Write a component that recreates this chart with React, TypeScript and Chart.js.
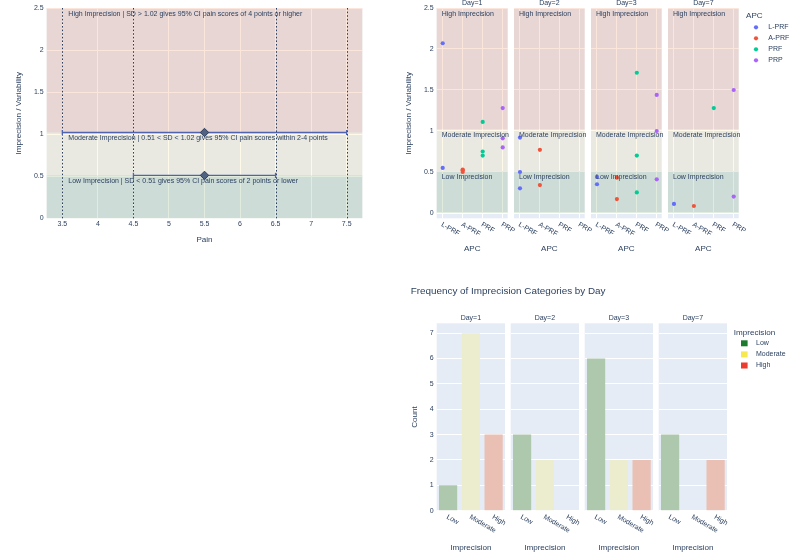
import React, { useEffect, useRef } from "react";
import { Chart, registerables } from "chart.js";

Chart.register(...registerables);

const FONT = '"Liberation Sans", Arial, Helvetica, sans-serif';
const INK = "#2a3f5f";
const PLOT_BG = "#e5ecf6";
const GRID = "#ffffff";
const TICK = 7;
const AXIS_TITLE = 8.1;
const NOTE = 7;
const MAIN_TITLE = 9.9;

// ---- Pain vs imprecision reference panel ----
const painTicks = [3.5, 4, 4.5, 5, 5.5, 6, 6.5, 7, 7.5];
const sdTicks = [0, 0.5, 1, 1.5, 2, 2.5];
const sdCutoffs = [1.02, 0.51];
const ciMid = [5.5, 5.5];
const ciLow = [3.5, 4.5];
const ciHigh = [7.5, 6.5];
const ciGuides = [3.5, 4.5, 6.5, 7.5];
const bandNotes = [
  "High Imprecision | SD > 1.02 gives 95% CI pain scores of 4 points or higher",
  "Moderate Imprecision | 0.51 < SD < 1.02 gives 95% CI pain scores within 2-4 points",
  "Low Imprecision | SD < 0.51 gives 95% CI pain scores of 2 points or lower",
];

// ---- SD by APC, faceted by day ----
const dayLabels = ["Day=1", "Day=2", "Day=3", "Day=7"];
const apcLabels = ["L-PRF", "A-PRF", "PRF", "PRP"];
const apcColors = ["#636efa", "#ef553b", "#00cc96", "#ab63fa"];
const sdLPRF = [[2.07, 0.55], [0.92, 0.5, 0.3], [0.44, 0.35], [0.11]];
const sdAPRF = [[0.53, 0.52, 0.5], [0.77, 0.34], [0.43, 0.17], [0.085]];
const sdPRF = [[1.11, 0.75, 0.7], [], [1.71, 0.7, 0.25], [1.28]];
const sdPRP = [[1.28, 0.91, 0.8], [], [1.44, 1.0, 0.41], [1.5, 0.2]];
const bandShortNotes = ["High Imprecision", "Moderate Imprecision", "Low Imprecision"];

// ---- Frequency of imprecision categories ----
const levelLabels = ["Low", "Moderate", "High"];
const countLow = [1, 3, 6, 3];
const countModerate = [7, 2, 2, 0];
const countHigh = [3, 0, 2, 2];
const countTicks = [0, 1, 2, 3, 4, 5, 6, 7];
const levelBarColors = ["#aec8ae", "#ecedcf", "#eac0b4"];
const levelKeyColors = ["#1b7a2c", "#f6e84e", "#ee3b30"];

const BAND_FILLS = ["rgba(239,131,76,0.2)", "rgba(249,226,146,0.2)", "rgba(109,161,91,0.2)"];

type Rect = { left: number; top: number; width: number; height: number };
type Area = { l: number; t: number; r: number; b: number };

function fitted(rect: Rect, area: Area) {
  return {
    padding: { left: 0, top: area.t - rect.top, right: rect.left + rect.width - area.r, bottom: 0 },
    yw: area.l - rect.left,
    xh: rect.top + rect.height - area.b,
  };
}

const font = (size: number) => ({ family: FONT, size, lineHeight: 1.2 });

function say(ctx: CanvasRenderingContext2D, s: string, x: number, y: number, size: number, align: CanvasTextAlign = "left", color = INK) {
  ctx.save();
  ctx.font = `${size}px ${FONT}`;
  ctx.fillStyle = color;
  ctx.textAlign = align;
  ctx.textBaseline = "middle";
  ctx.fillText(s, x, y);
  ctx.restore();
}

function fillPlot(chart: any) {
  const { ctx, chartArea: a } = chart;
  ctx.save();
  ctx.fillStyle = PLOT_BG;
  ctx.fillRect(a.left, a.top, a.right - a.left, a.bottom - a.top);
  ctx.restore();
}

function drawBands(chart: any) {
  const { ctx, chartArea: a, scales } = chart;
  const y = scales.y;
  const edges = [sdTicks[sdTicks.length - 1], sdCutoffs[0], sdCutoffs[1], 0];
  ctx.save();
  for (let i = 0; i < 3; i++) {
    const top = y.getPixelForValue(edges[i]);
    const bot = y.getPixelForValue(edges[i + 1]);
    ctx.fillStyle = BAND_FILLS[i];
    ctx.fillRect(a.left, top, a.right - a.left, bot - top);
  }
  ctx.restore();
}

function drawSlanted(chart: any, labels: string[], dx: number, dy: number) {
  const { ctx, chartArea, scales } = chart;
  ctx.save();
  ctx.font = `${TICK}px ${FONT}`;
  ctx.fillStyle = INK;
  ctx.textAlign = "left";
  ctx.textBaseline = "middle";
  labels.forEach((lab, i) => {
    const px = scales.x.getPixelForValue(i);
    ctx.save();
    ctx.translate(px + dx, chartArea.bottom + dy);
    ctx.rotate(Math.PI / 6);
    ctx.fillText(lab, 0, 0);
    ctx.restore();
  });
  ctx.restore();
}

const baseOptions = (padding: any) => ({
  animation: false as const,
  responsive: false,
  maintainAspectRatio: false,
  devicePixelRatio: 1,
  events: [] as any[],
  layout: { padding },
  plugins: { legend: { display: false }, tooltip: { enabled: false }, title: { display: false } },
});

// Panel: pain CI ranges against SD cut-offs
function makePain(canvas: HTMLCanvasElement, rect: Rect) {
  const area = { l: 46.7, t: 8, r: 362.3, b: 218.3 };
  const f = fitted(rect, area);
  const points = ciMid.map((x, i) => ({ x, y: sdCutoffs[i] }));
  return new Chart(canvas, {
    type: "scatter",
    data: {
      datasets: [
        {
          data: points,
          pointStyle: "rectRot",
          pointRadius: 4.2,
          backgroundColor: "#4f6282",
          borderColor: "#2c3b57",
          borderWidth: 1,
        },
      ],
    },
    options: {
      ...baseOptions(f.padding),
      scales: {
        x: {
          type: "linear",
          min: 3.28,
          max: 7.72,
          bounds: "data",
          afterBuildTicks: (s: any) => { s.ticks = painTicks.map((v) => ({ value: v })); },
          afterFit: (s: any) => { s.height = f.xh; },
          grid: { color: GRID, drawTicks: false },
          border: { display: false },
          ticks: { font: font(TICK), color: INK, padding: 2, maxRotation: 0, autoSkip: false, callback: (v: any) => String(v) },
          title: { display: true, text: "Pain", font: font(AXIS_TITLE), color: INK, padding: { top: 0, bottom: 15.8 } },
        },
        y: {
          type: "linear",
          min: 0,
          max: 2.5,
          bounds: "data",
          afterBuildTicks: (s: any) => { s.ticks = sdTicks.map((v) => ({ value: v })); },
          afterFit: (s: any) => { s.width = f.yw; },
          grid: { color: GRID, drawTicks: false },
          border: { display: false },
          ticks: { font: font(TICK), color: INK, padding: 3, callback: (v: any) => String(v) },
          title: { display: true, text: "Imprecision / Variability", font: font(AXIS_TITLE), color: INK, padding: { top: 14.4, bottom: 0 } },
        },
      },
    } as any,
    plugins: [
      {
        id: "painDecor",
        beforeDraw: (chart: any) => fillPlot(chart),
        beforeDatasetsDraw: (chart: any) => {
          drawBands(chart);
          const { ctx, chartArea: a, scales } = chart;
          const xs = scales.x;
          const ys = scales.y;
          ctx.save();
          ctx.strokeStyle = INK;
          ctx.lineWidth = 1;
          ctx.setLineDash([1.6, 2]);
          ciGuides.forEach((g) => {
            const px = Math.round(xs.getPixelForValue(g)) + 0.5;
            ctx.beginPath();
            ctx.moveTo(px, a.top);
            ctx.lineTo(px, a.bottom);
            ctx.stroke();
          });
          ctx.setLineDash([]);
          ctx.strokeStyle = "#4f64b0";
          ctx.lineWidth = 1.3;
          sdCutoffs.forEach((c, i) => {
            const py = ys.getPixelForValue(c);
            const x0 = xs.getPixelForValue(ciLow[i]);
            const x1 = xs.getPixelForValue(ciHigh[i]);
            ctx.beginPath();
            ctx.moveTo(x0, py);
            ctx.lineTo(x1, py);
            ctx.moveTo(x0, py - 2.6);
            ctx.lineTo(x0, py + 2.6);
            ctx.moveTo(x1, py - 2.6);
            ctx.lineTo(x1, py + 2.6);
            ctx.stroke();
          });
          ctx.restore();
        },
        afterDatasetsDraw: (chart: any) => {
          const { ctx, scales } = chart;
          const x0 = scales.x.getPixelForValue(ciGuides[0]) + 6;
          const edges = [sdTicks[sdTicks.length - 1], ...sdCutoffs];
          edges.forEach((e, i) => say(ctx, bandNotes[i], x0, scales.y.getPixelForValue(e) + 6, NOTE));
        },
      },
    ],
  });
}

// Panels: SD by APC for one day
function makeApcDay(day: number) {
  return (canvas: HTMLCanvasElement, rect: Rect) => {
    const subL = 436.7 + day * 77;
    const area = { l: subL, t: 8, r: subL + 71, b: 218.3 };
    const f = fitted(rect, area);
    const groups = [sdLPRF, sdAPRF, sdPRF, sdPRP];
    const first = day === 0;
    const last = day === dayLabels.length - 1;
    return new Chart(canvas, {
      type: "scatter",
      data: {
        datasets: groups.map((g, k) => ({
          label: apcLabels[k],
          data: g[day].map((v) => ({ x: k, y: v })),
          pointRadius: 2.1,
          pointBorderWidth: 0,
          backgroundColor: apcColors[k],
          borderColor: apcColors[k],
        })),
      },
      options: {
        ...baseOptions(f.padding),
        scales: {
          x: {
            type: "linear",
            min: -0.3,
            max: 3.25,
            bounds: "data",
            afterBuildTicks: (s: any) => { s.ticks = apcLabels.map((_, i) => ({ value: i })); },
            afterFit: (s: any) => { s.height = f.xh; },
            grid: { color: GRID, drawTicks: false },
            border: { display: false },
            ticks: { display: false },
            title: { display: true, text: "APC", font: font(AXIS_TITLE), color: INK, padding: { top: 0, bottom: 6.8 } },
          },
          y: {
            type: "linear",
            min: -0.065,
            max: 2.5,
            bounds: "data",
            afterBuildTicks: (s: any) => { s.ticks = sdTicks.map((v) => ({ value: v })); },
            afterFit: (s: any) => { s.width = f.yw; },
            grid: { color: GRID, drawTicks: false, lineWidth: (c: any) => (c.tick && c.tick.value === 0 ? 2 : 1) },
            border: { display: false },
            ticks: { display: first, font: font(TICK), color: INK, padding: 3, callback: (v: any) => String(v) },
            title: { display: first, text: "Imprecision / Variability", font: font(AXIS_TITLE), color: INK, padding: { top: 14.4, bottom: 0 } },
          },
        },
      } as any,
      plugins: [
        {
          id: "apcDecor" + day,
          beforeDraw: (chart: any) => fillPlot(chart),
          beforeDatasetsDraw: (chart: any) => drawBands(chart),
          afterDatasetsDraw: (chart: any) => {
            const { ctx, chartArea: a, scales } = chart;
            const edges = [sdTicks[sdTicks.length - 1], ...sdCutoffs];
            edges.forEach((e, i) => say(ctx, bandShortNotes[i], a.left + 5, scales.y.getPixelForValue(e) + 6, NOTE));
            say(ctx, dayLabels[day], (a.left + a.right) / 2, 2.8, TICK, "center");
            drawSlanted(chart, apcLabels, -1, 5.8);
            if (last) {
              const ox = rect.left;
              const oy = rect.top;
              say(ctx, "APC", 746 - ox, 15.7 - oy, AXIS_TITLE);
              apcLabels.forEach((lab, k) => {
                const y = 27.3 + k * 11 - oy;
                ctx.save();
                ctx.fillStyle = apcColors[k];
                ctx.beginPath();
                ctx.arc(756 - ox, y, 2.1, 0, Math.PI * 2);
                ctx.fill();
                ctx.restore();
                say(ctx, lab, 768.3 - ox, y, TICK);
              });
            }
          },
        },
      ],
    });
  };
}

// Panels: count of imprecision categories for one day
function makeCountDay(day: number) {
  return (canvas: HTMLCanvasElement, rect: Rect) => {
    const subL = 436.7 + day * 74;
    const area = { l: subL, t: 323.3, r: subL + 68.3, b: 510.7 };
    const f = fitted(rect, area);
    const first = day === 0;
    const last = day === dayLabels.length - 1;
    return new Chart(canvas, {
      type: "bar",
      data: {
        labels: levelLabels,
        datasets: [
          {
            data: [countLow[day], countModerate[day], countHigh[day]],
            backgroundColor: levelBarColors,
            borderWidth: 0,
            categoryPercentage: 0.8,
            barPercentage: 1,
          },
        ],
      },
      options: {
        ...baseOptions(f.padding),
        scales: {
          x: {
            type: "category",
            offset: true,
            afterFit: (s: any) => { s.height = f.xh; },
            grid: { display: false, drawTicks: false },
            border: { display: false },
            ticks: { display: false },
            title: { display: true, text: "Imprecision", font: font(AXIS_TITLE), color: INK, padding: { top: 0, bottom: 5.5 } },
          },
          y: {
            type: "linear",
            min: 0,
            max: 7.39,
            bounds: "data",
            afterBuildTicks: (s: any) => { s.ticks = countTicks.map((v) => ({ value: v })); },
            afterFit: (s: any) => { s.width = f.yw; },
            grid: { color: GRID, drawTicks: false },
            border: { display: false },
            ticks: { display: first, font: font(TICK), color: INK, padding: 3, callback: (v: any) => String(v) },
            title: { display: first, text: "Count", font: font(AXIS_TITLE), color: INK, padding: { top: 20.1, bottom: 0 } },
          },
        },
      } as any,
      plugins: [
        {
          id: "countDecor" + day,
          beforeDraw: (chart: any) => fillPlot(chart),
          afterDatasetsDraw: (chart: any) => {
            const { ctx, chartArea: a } = chart;
            const ox = rect.left;
            const oy = rect.top;
            say(ctx, dayLabels[day], (a.left + a.right) / 2, 318.3 - oy, TICK, "center");
            drawSlanted(chart, levelLabels, -1, 5.8);
            if (first) {
              say(ctx, "Frequency of Imprecision Categories by Day", 410.7 - ox, 291.7 - oy, MAIN_TITLE);
            }
            if (last) {
              say(ctx, "Imprecision", 733.8 - ox, 332.3 - oy, AXIS_TITLE);
              levelLabels.forEach((lab, k) => {
                const y = 343.3 + k * 11.1 - oy;
                ctx.save();
                ctx.fillStyle = levelKeyColors[k];
                ctx.fillRect(741 - ox, y - 3, 6.6, 6);
                ctx.restore();
                say(ctx, lab, 756 - ox, y, TICK);
              });
            }
          },
        },
      ],
    });
  };
}

type Spec = { rect: Rect; make: (c: HTMLCanvasElement, r: Rect) => Chart };

const SPECS: Spec[] = [
  { rect: { left: 0, top: 0, width: 390, height: 260 }, make: makePain },
  { rect: { left: 390, top: 0, width: 130, height: 260 }, make: makeApcDay(0) },
  { rect: { left: 510, top: 0, width: 86, height: 260 }, make: makeApcDay(1) },
  { rect: { left: 587, top: 0, width: 86, height: 260 }, make: makeApcDay(2) },
  { rect: { left: 664, top: 0, width: 125, height: 260 }, make: makeApcDay(3) },
  { rect: { left: 390, top: 280, width: 399, height: 278 }, make: makeCountDay(0) },
  { rect: { left: 507, top: 310, width: 83, height: 248 }, make: makeCountDay(1) },
  { rect: { left: 581, top: 310, width: 83, height: 248 }, make: makeCountDay(2) },
  { rect: { left: 655, top: 310, width: 134, height: 248 }, make: makeCountDay(3) },
];

export default function App() {
  const refs = useRef<(HTMLCanvasElement | null)[]>([]);
  useEffect(() => {
    const charts = SPECS.map((s, i) => s.make(refs.current[i] as HTMLCanvasElement, s.rect));
    return () => charts.forEach((c) => c.destroy());
  }, []);
  return (
    <div style={{ position: "absolute", left: 0, top: 0, width: 789, height: 558, background: "#ffffff", overflow: "hidden" }}>
      {SPECS.map((s, i) => (
        <canvas
          key={i}
          ref={(el) => { refs.current[i] = el; }}
          width={s.rect.width}
          height={s.rect.height}
          style={{ position: "absolute", left: s.rect.left, top: s.rect.top, width: s.rect.width, height: s.rect.height }}
        />
      ))}
    </div>
  );
}
